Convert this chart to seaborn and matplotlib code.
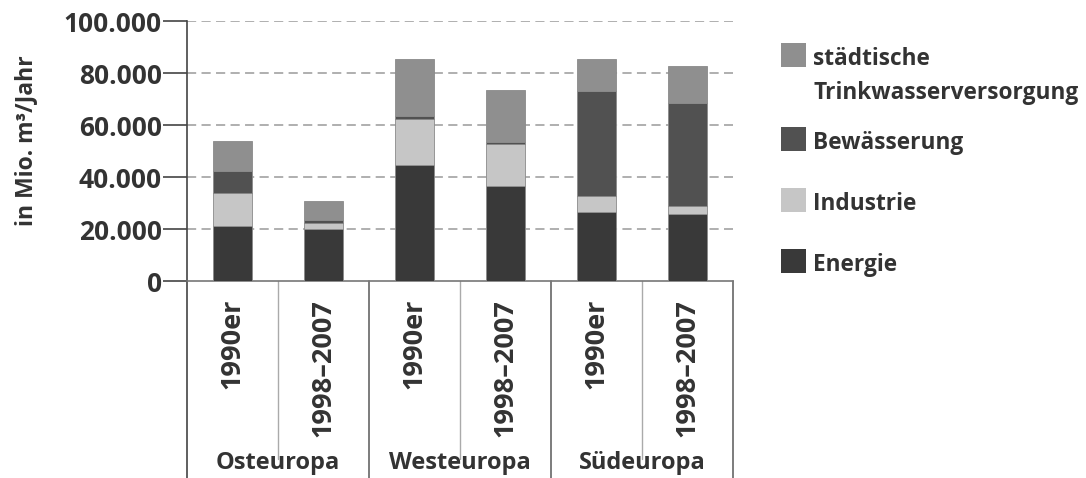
import numpy as np
import pandas as pd
import matplotlib
matplotlib.use("Agg")
import matplotlib.pyplot as plt
from matplotlib.lines import Line2D
from matplotlib.patches import Rectangle
import seaborn as sns

regions = ["Osteuropa", "Westeuropa", "Südeuropa"]
periods = ["1990er", "1998–2007"]
energie = [21200, 19900, 44700, 36600, 26600, 25700]
industrie = [12600, 2600, 17600, 16200, 6100, 3200]
bewaesserung = [8600, 1000, 1400, 700, 40600, 39500]
staedtisch = [11400, 7300, 21700, 20000, 12100, 14500]
series_names = ["Energie", "Industrie", "Bewässerung", "städtische\nTrinkwasserversorgung"]
colors = ["#393939", "#c6c6c6", "#515151", "#8f8f8f"]
yticks = [0, 20000, 40000, 60000, 80000, 100000]
ytick_labels = ["0", "20.000", "40.000", "60.000", "80.000", "100.000"]
ylabel = "in Mio. m³/Jahr"

sns.set_theme(style="white")
plt.rcParams["font.family"] = ["Open Sans", "DejaVu Sans"]
TXT = "#333333"
W = "bold"

cats = [f"{r}|{p}" for r in regions for p in periods]
df = pd.DataFrame({"cat": cats, "Energie": energie, "Industrie": industrie,
                   "Bewässerung": bewaesserung, "städtisch": staedtisch})
cols = ["Energie", "Industrie", "Bewässerung", "städtisch"]

fig = plt.figure(figsize=(10.86, 4.78), dpi=100)
ax = fig.add_axes([187 / 1086, 1 - 281 / 478, (733 - 187) / 1086, 259.7 / 478])

bottom = np.zeros(len(cats))
for col, c in zip(cols, colors):
    sns.barplot(data=df, x="cat", y=col, order=cats, color=c, ax=ax,
                bottom=bottom, width=0.43, edgecolor="#8a8a8a", linewidth=0.6,
                saturation=1, zorder=3)
    bottom = bottom + df[col].values

ax.set_xlim(-0.5, len(cats) - 0.5)
ax.set_ylim(0, 100000)
ax.set_yticks(yticks)
ax.set_yticklabels(ytick_labels, fontsize=19, fontweight=W, color=TXT)
ax.tick_params(axis="y", left=True, length=17, width=1.2, color="#444444", pad=1)
ax.set_xticks(range(len(cats)))
ax.set_xticklabels([c.split("|")[1] for c in cats], rotation=90, fontsize=19.5,
                   fontweight=W, color=TXT, va="top", ha="center")
ax.tick_params(axis="x", bottom=False, pad=7)
ax.set_xlabel("")
ax.set_ylabel(ylabel, fontsize=16.5, fontweight=W, color=TXT)
ax.yaxis.set_label_coords(-0.272, 0.54)

for y in yticks[1:]:
    ax.axhline(y, color="#9a9a9a", lw=1.1, ls=(0, (6, 3.5)), zorder=1)

for s in ["top", "right"]:
    ax.spines[s].set_visible(False)
ax.spines["left"].set_color("#444444")
ax.spines["left"].set_linewidth(1.2)
ax.spines["bottom"].set_color("#777777")
ax.spines["bottom"].set_linewidth(1.2)

tr = ax.get_xaxis_transform()
for xb in [-0.5, 1.5, 3.5, 5.5]:
    ax.add_line(Line2D([xb, xb], [0, -0.77], transform=tr, color="#444444" if xb == -0.5 else "#666666",
                       lw=1.2, clip_on=False))
for xb in [0.5, 2.5, 4.5]:
    ax.add_line(Line2D([xb, xb], [0, -0.685], transform=tr, color="#aaaaaa",
                       lw=1.0, clip_on=False))
for i, r in enumerate(regions):
    ax.text(2 * i + 0.5, -0.70, r, transform=tr, ha="center", va="center",
            fontsize=17, fontweight=W, color=TXT)

# legend
leg_items = [(series_names[3], colors[3], 43), (series_names[2], colors[2], 127),
             (series_names[1], colors[1], 188), (series_names[0], colors[0], 249)]
for name, c, ytop in leg_items:
    fig.patches.append(Rectangle((781 / 1086, 1 - (ytop + 24) / 478), 25 / 1086, 24 / 478,
                                 transform=fig.transFigure, facecolor=c, edgecolor="none"))
    lines = name.split("\n")
    for k, ln in enumerate(lines):
        fig.text(813 / 1086, 1 - (ytop + 13 + k * 34) / 478, ln, ha="left", va="center_baseline",
                 fontsize=16.3, fontweight=W, color=TXT)

fig.savefig("out.png", dpi=100)
